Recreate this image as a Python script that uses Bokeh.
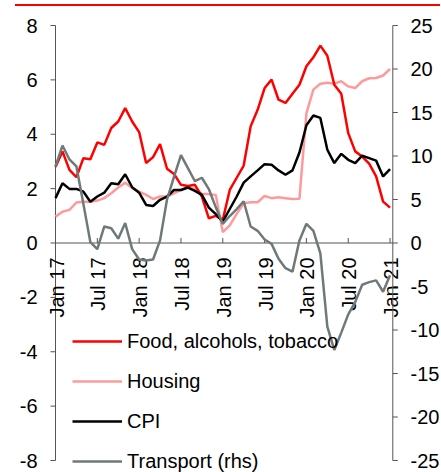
import math
from bokeh.plotting import figure
from bokeh.models import Range1d, Legend, LegendItem, Div
from bokeh.layouts import column
from bokeh.embed import file_html
from bokeh.resources import INLINE
from bokeh.core.properties import value

# ---------------- data ----------------
months = list(range(49))  # Jan 17 .. Jan 21
x_tick_months = [0, 6, 12, 18, 24, 30, 36, 42, 48]
x_tick_labels = ["Jan 17", "Jul 17", "Jan 18", "Jul 18", "Jan 19",
                 "Jul 19", "Jan 20", "Jul 20", "Jan 21"]
left_ticks = [-8, -6, -4, -2, 0, 2, 4, 6, 8]
left_tick_labels = ["-8", "-6", "-4", "-2", "0", "2", "4", "6", "8"]
right_ticks = [-25, -20, -15, -10, -5, 0, 5, 10, 15, 20, 25]
right_tick_labels = ["-25", "-20", "-15", "-10", "-5", "0", "5", "10", "15", "20", "25"]

food = [2.80, 3.37, 2.69, 2.42, 3.12, 3.08, 3.70, 3.61, 4.23, 4.47,
        4.96, 4.47, 4.08, 2.94, 3.16, 3.64, 2.73, 2.54, 2.14, 2.10,
        2.14, 1.71, 0.91, 1.00, 0.85, 1.95, 2.40, 2.85, 4.29, 4.90,
        5.70, 6.01, 5.27, 5.15, 5.49, 5.82, 6.50, 6.83, 7.26, 6.89,
        5.82, 5.49, 4.04, 3.37, 3.18, 2.92, 2.45, 1.52, 1.30]
housing = [0.97, 1.15, 1.22, 1.49, 1.52, 1.52, 1.56, 1.65, 1.83, 2.04,
           2.22, 2.02, 1.89, 1.77, 1.62, 1.71, 1.71, 1.83, 1.95, 2.05,
           1.98, 1.81, 1.79, 1.77, 0.40, 0.65, 1.07, 1.46, 1.50, 1.50,
           1.73, 1.65, 1.68, 1.65, 1.62, 1.63, 4.78, 5.64, 5.86, 5.89,
           5.86, 5.95, 5.76, 5.70, 5.95, 6.06, 6.07, 6.16, 6.40]
cpi = [1.65, 2.20, 1.99, 1.99, 1.89, 1.52, 1.71, 1.85, 2.20, 2.16,
       2.53, 2.05, 1.85, 1.40, 1.36, 1.59, 1.71, 1.95, 1.95, 2.04,
       1.92, 1.77, 1.30, 1.06, 0.79, 1.25, 1.71, 2.22, 2.45, 2.67,
       2.90, 2.88, 2.67, 2.51, 2.67, 3.33, 4.33, 4.69, 4.60, 3.43,
       2.94, 3.28, 3.06, 2.94, 3.21, 3.12, 3.03, 2.45, 2.72]
transport = [8.8, 11.2, 9.6, 8.8, 4.5, 0.1, -0.7, 1.9, 1.7, 0.5,
             2.3, -0.7, -1.9, -2.0, -1.9, 0.3, 5.0, 7.6, 10.1, 8.6,
             7.1, 7.5, 6.2, 4.1, 2.2, 3.1, 3.9, 4.8, 1.9, 1.4,
             0.4, -0.1, -1.8, -2.9, -3.3, 0.3, 2.2, 1.4, -1.2, -9.6,
             -12.3, -10.3, -8.2, -6.8, -4.8, -4.5, -4.3, -5.6, -3.7]

# ---------------- geometry / style ----------------
FONT = "Liberation Sans"
FS = "20px"
AX = "#555555"
RED = "#ff0000"
PINK = "#ff9a9a"
BLACK = "#000000"
GRAY = "#6f7979"
LW = 2.5

CANVAS_TOP = 6          # page y of canvas top (below the red bar)
W, H = 441, 466
AXIS_LEFT_PX = 55       # page x of the left axis (Jan 17)
PX_PER_MONTH = 6.97
PX_PER_LEFT = 27.1875
PX_PER_RIGHT = 8.7
ZERO_Y = 242.5          # page y of the zero line
RIGHT_AXIS_PX = 337.3   # right axis distance from Jan 17 (px)
TICK = 5

x_start = -AXIS_LEFT_PX / PX_PER_MONTH
x_end = (W - AXIS_LEFT_PX) / PX_PER_MONTH
y_top = (ZERO_Y - CANVAS_TOP) / PX_PER_LEFT
y_bot = (ZERO_Y - (CANVAS_TOP + H)) / PX_PER_LEFT
r_top = (ZERO_Y - CANVAS_TOP) / PX_PER_RIGHT
r_bot = (ZERO_Y - (CANVAS_TOP + H)) / PX_PER_RIGHT
RX = RIGHT_AXIS_PX / PX_PER_MONTH
TX = TICK / PX_PER_MONTH

p = figure(width=W, height=H,
           x_range=Range1d(x_start, x_end), y_range=Range1d(y_bot, y_top),
           x_axis_location=None, y_axis_location=None,
           output_backend="svg", toolbar_location=None,
           min_border_left=0, min_border_right=0,
           min_border_top=0, min_border_bottom=0)
p.extra_y_ranges = {"right": Range1d(r_bot, r_top)}
p.grid.visible = False
p.outline_line_color = None
p.background_fill_color = "white"
p.border_fill_color = "white"

txt = dict(text_font=value(FONT), text_font_size=value(FS), text_color="black")

# left axis
n_l = len(left_ticks)
p.segment(x0=[0], y0=[left_ticks[0]], x1=[0], y1=[left_ticks[-1]],
          line_color=AX, line_width=1)
p.segment(x0=[-TX] * n_l, y0=left_ticks, x1=[0] * n_l, y1=left_ticks,
          line_color=AX, line_width=1)
p.text(x=[0] * n_l, y=left_ticks, text=left_tick_labels, x_offset=-18,
       text_align="right", text_baseline="middle", **txt)

# x axis drawn at y = 0
n_x = len(x_tick_months)
p.segment(x0=[0], y0=[0], x1=[RX], y1=[0], line_color=AX, line_width=1)
p.segment(x0=x_tick_months, y0=[0] * n_x,
          x1=x_tick_months, y1=[TICK / PX_PER_LEFT] * n_x,
          line_color=AX, line_width=1)
p.text(x=x_tick_months, y=[-14.5 / PX_PER_LEFT] * n_x, text=x_tick_labels,
       angle=math.pi / 2, x_offset=1,
       text_align="right", text_baseline="middle", **txt)

# right axis
n_r = len(right_ticks)
p.segment(x0=[RX], y0=[right_ticks[0]], x1=[RX], y1=[right_ticks[-1]],
          line_color=AX, line_width=1, y_range_name="right")
p.segment(x0=[RX] * n_r, y0=right_ticks, x1=[RX + TX] * n_r, y1=right_ticks,
          line_color=AX, line_width=1, y_range_name="right")
p.text(x=[RX] * n_r, y=right_ticks, text=right_tick_labels,
       x_offset=17.7, text_align="left", text_baseline="middle",
       y_range_name="right", **txt)

# series
r_house = p.line(months, housing, line_color=PINK, line_width=LW)
r_food = p.line(months, food, line_color=RED, line_width=LW)
r_cpi = p.line(months, cpi, line_color=BLACK, line_width=LW)
r_trans = p.line(months, transport, line_color=GRAY, line_width=LW,
                 y_range_name="right")

legend = Legend(items=[
    LegendItem(label="Food, alcohols, tobacco", renderers=[r_food]),
    LegendItem(label="Housing", renderers=[r_house]),
    LegendItem(label="CPI", renderers=[r_cpi]),
    LegendItem(label="Transport (rhs)", renderers=[r_trans]),
], location=(72, -1), glyph_width=50, glyph_height=24, label_height=24,
    spacing=16, padding=0, margin=0, label_standoff=5,
    background_fill_alpha=0, border_line_alpha=0,
    label_text_font=FONT, label_text_font_size=FS, label_text_color="black")
p.add_layout(legend, "center")

bar = Div(text="", width=425, height=2, margin=(4, 0, 0, 15),
          styles={"background-color": RED})

layout = column(bar, p, spacing=0)
open("out.html", "w").write(file_html(layout, INLINE))
